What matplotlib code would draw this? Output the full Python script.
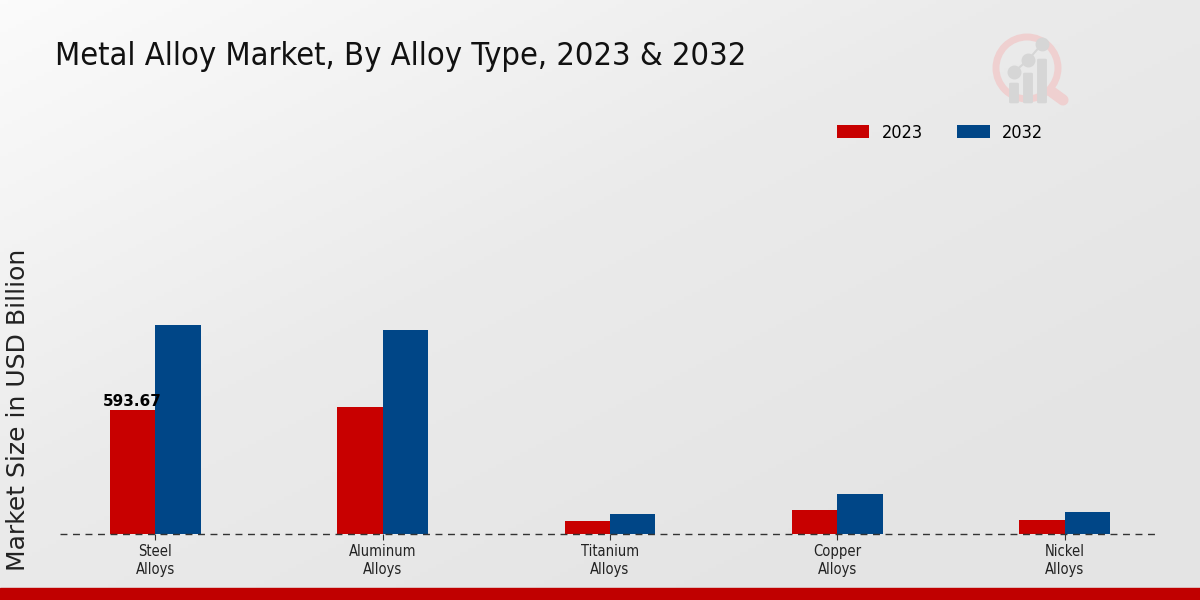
import numpy as np
import matplotlib
matplotlib.use("Agg")
import matplotlib.pyplot as plt
from matplotlib.patches import Rectangle, Ellipse, FancyBboxPatch
from matplotlib.lines import Line2D
from matplotlib.colors import LinearSegmentedColormap

categories = ["Steel\nAlloys", "Aluminum\nAlloys", "Titanium\nAlloys", "Copper\nAlloys", "Nickel\nAlloys"]
years = ["2023", "2032"]
values_2023 = [593.67, 608, 62, 115, 67]
values_2032 = [1000, 977, 96, 191, 105]
colors = ["#c80000", "#004687"]

fig = plt.figure(figsize=(12, 6), dpi=100)

# background gradient, light top-left to grey bottom-right
bg = fig.add_axes([0, 0, 1, 1], zorder=-10)
gx, gy = np.meshgrid(np.linspace(0, 1, 300), np.linspace(0, 1, 150))
grad = np.clip(0.6 * gx + 0.6 * (1 - gy), 0, 1)
cmap = LinearSegmentedColormap.from_list("bg", ["#fbfbfb", "#ebebeb", "#e4e4e4"])
bg.imshow(grad, cmap=cmap, vmin=0, vmax=1, aspect="auto", extent=[0, 1, 0, 1], origin="lower")
bg.axis("off")

# red strip at the bottom
fig.patches.append(Rectangle((0, 0), 1, 12 / 600, transform=fig.transFigure, color="#c00000", zorder=5))

ax = fig.add_axes([60 / 1200, 66 / 600, 1100 / 1200, 384 / 600])
ax.set_facecolor("none")

x = np.arange(len(categories))
w = 0.2
ax.bar(x - w / 2, values_2023, w, color=colors[0], label=years[0])
ax.bar(x + w / 2, values_2032, w, color=colors[1], label=years[1])

ax.text(x[0] - w / 2, values_2023[0] + 5, f"{values_2023[0]:.2f}", ha="center", va="bottom",
        fontsize=11, fontweight="bold")

ax.set_xlim(-0.42, 4.42)
ax.set_ylim(0, 1838)
ax.axhline(0, color="#333333", linestyle=(0, (5, 4)), linewidth=1, clip_on=False, zorder=3)
for s in ax.spines.values():
    s.set_visible(False)
ax.set_yticks([])
ax.set_xticks(x)
ax.set_xticklabels(categories, fontsize=10.5, color="#222222", fontstretch="condensed")
ax.tick_params(axis="x", length=4, color="#333333")

fig.text(18 / 1200, 1 - 410 / 600, "Market Size in USD Billion", rotation=90,
         ha="center", va="center", fontsize=18, color="#222222")

fig.text(55 / 1200, 1 - 57 / 600, "Metal Alloy Market, By Alloy Type, 2023 & 2032",
         family="DejaVu Sans", fontstretch="condensed", fontsize=23.4, va="center", ha="left",
         color="#111111")

leg = fig.legend(loc="center", bbox_to_anchor=(940 / 1200, 1 - 133 / 600), ncol=2, frameon=False,
                 prop={"size": 13, "stretch": "condensed"}, handlelength=1.8, handleheight=0.7,
                 handletextpad=0.7, columnspacing=1.9)

# faint logo
pink, grey = "#efd0d0", "#d6d6d6"
lx, ly = 1027, 68
fig.patches.append(Ellipse((lx / 1200, 1 - ly / 600), 62 / 1200, 62 / 600, transform=fig.transFigure,
                           fill=False, edgecolor=pink, linewidth=5, zorder=1))
fig.add_artist(Line2D([1052 / 1200, 1063 / 1200], [1 - 92 / 600, 1 - 100 / 600], transform=fig.transFigure,
                      color=pink, linewidth=8, solid_capstyle="round", zorder=1))
bar_x = [1014, 1028, 1042]
bar_top = [84, 74, 60]
dot_y = [72, 60, 44]
for bx, bt in zip(bar_x, bar_top):
    fig.patches.append(FancyBboxPatch(((bx - 3) / 1200, 1 - 102 / 600), 6 / 1200, (102 - bt) / 600,
                                      boxstyle="round,pad=0.001", transform=fig.transFigure,
                                      color=grey, zorder=2))
fig.add_artist(Line2D([b / 1200 for b in bar_x], [1 - d / 600 for d in dot_y], transform=fig.transFigure,
                      color=grey, linewidth=1.5, marker="o", markersize=9, zorder=2))

fig.savefig("out.png", dpi=100)
